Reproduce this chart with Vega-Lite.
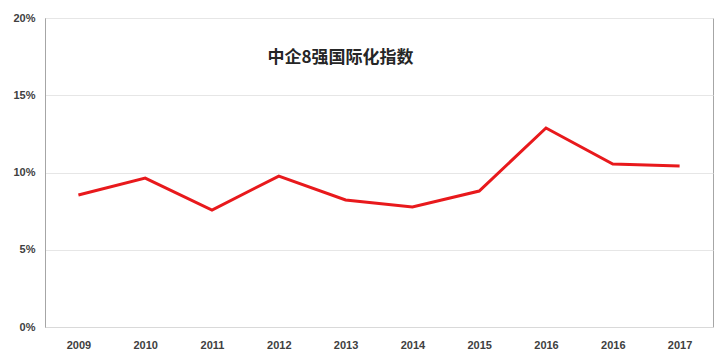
{
  "$schema": "https://vega.github.io/schema/vega-lite/v6.json",
  "width": 668,
  "height": 309,
  "autosize": {"type": "none"},
  "padding": {"left": 45, "top": 18, "right": 10, "bottom": 29},
  "background": "white",
  "config": {
    "view": {"stroke": "#a6a6a6", "strokeWidth": 1},
    "axis": {"labelFont": "Liberation Sans", "labelFontWeight": "bold", "labelFontSize": 11, "labelColor": "#404040"}
  },
  "layer": [
    {
      "data": {
        "values": [
          {"year": "2009", "value": 0.0854},
          {"year": "2010", "value": 0.0964},
          {"year": "2011", "value": 0.0757},
          {"year": "2012", "value": 0.0977},
          {"year": "2013", "value": 0.0822},
          {"year": "2014", "value": 0.0777},
          {"year": "2015", "value": 0.0880},
          {"year": "2016", "value": 0.1288},
          {"year": "2016 ", "value": 0.1055},
          {"year": "2017", "value": 0.1042}
        ]
      },
      "mark": {"type": "line", "color": "#e8191c", "strokeWidth": 3, "strokeJoin": "miter"},
      "encoding": {
        "x": {
          "field": "year", "type": "ordinal", "sort": null, "title": null,
          "scale": {"paddingInner": 0, "paddingOuter": 0.5},
          "axis": {"labelAngle": 0, "ticks": false, "domainColor": "#d9d9d9", "labelPadding": 12, "labelExpr": "trim(datum.value)"}
        },
        "y": {
          "field": "value", "type": "quantitative", "title": null,
          "scale": {"domain": [0, 0.2], "nice": false},
          "axis": {"format": "0%", "values": [0, 0.05, 0.1, 0.15, 0.2], "labelOverlap": false, "ticks": false, "domainColor": "#a6a6a6", "gridColor": "#e6e6e6", "labelPadding": 10}
        }
      }
    },
    {
      "data": {"values": [{"label": "中企8强国际化指数"}]},
      "mark": {"type": "text", "font": "Noto Sans CJK SC", "fontWeight": "bold", "fontSize": 17, "color": "#262626", "dx": -5},
      "encoding": {
        "text": {"field": "label"},
        "x": {"datum": "2013", "type": "ordinal"},
        "y": {"datum": 0.174, "type": "quantitative"}
      }
    }
  ]
}
